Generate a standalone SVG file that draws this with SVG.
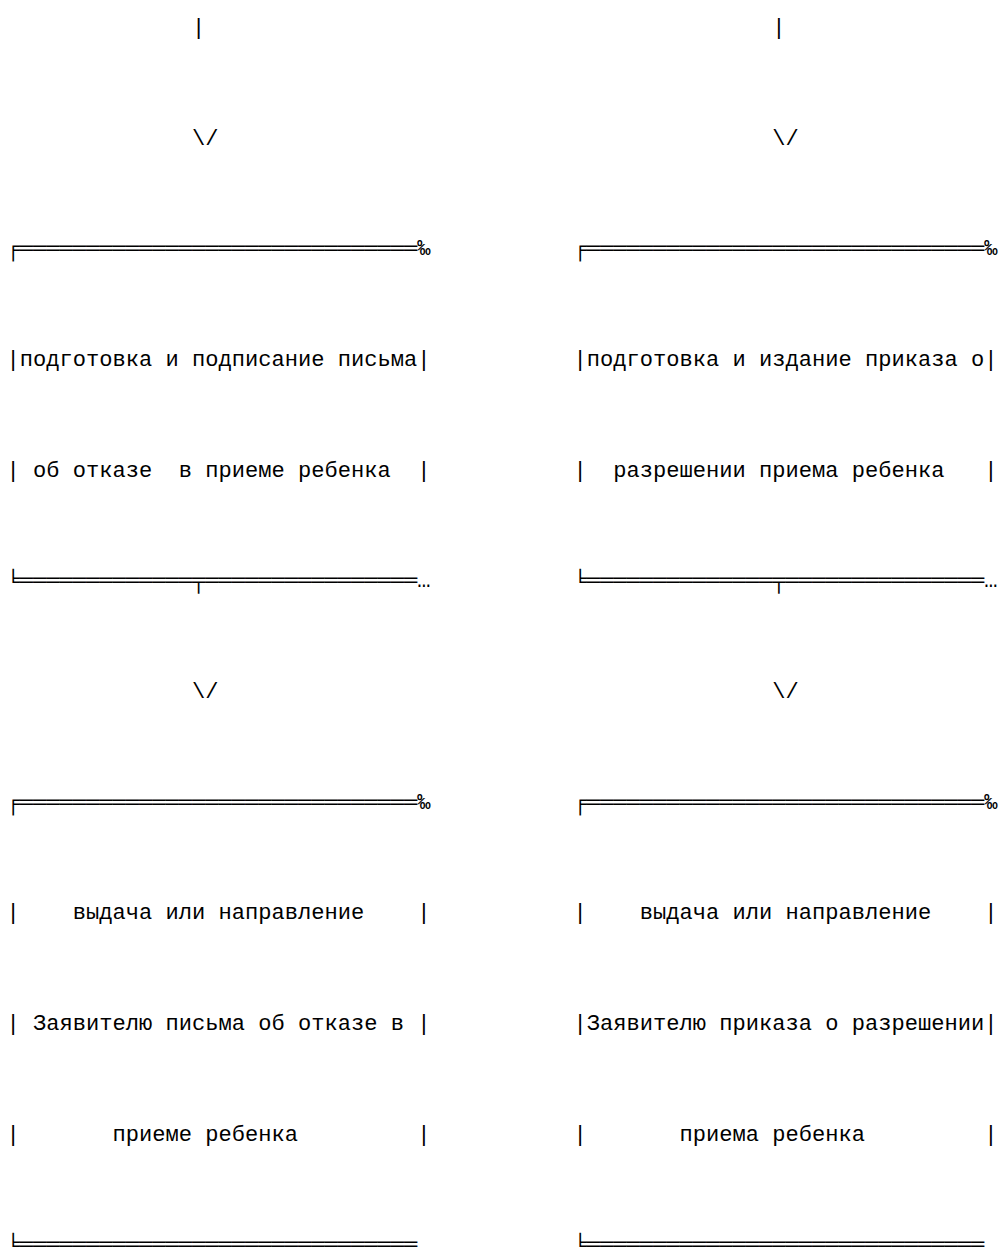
<svg xmlns="http://www.w3.org/2000/svg" width="999" height="1247" viewBox="0 0 999 1247" xml:space="preserve">
<style>
text { font-family: "Liberation Mono", "DejaVu Sans Mono", monospace; font-size: 22.08px; fill: #000; white-space: pre; }
</style>
<rect width="999" height="1247" fill="#fff"/>
<g id="connectors">
<text x="191.9" y="34">|</text>
<text x="772.15" y="34">|</text>
<text x="191.9" y="144.7">\/</text>
<text x="772.15" y="144.7">\/</text>
<text x="191.9" y="698">\/</text>
<text x="772.15" y="698">\/</text>
</g>
<g id="left-box-1">
<text x="6.4" y="255.3" textLength="424" lengthAdjust="spacing">╒══════════════════════════════‰</text>
<text x="6.4" y="366" textLength="424" lengthAdjust="spacing">|подготовка и подписание письма|</text>
<text x="6.4" y="476.7" textLength="424" lengthAdjust="spacing">| об отказе  в приеме ребенка  |</text>
<text x="6.4" y="587.3" textLength="424" lengthAdjust="spacing">╘═════════════╤════════════════…</text>
</g>
<g id="left-box-2">
<text x="6.4" y="808.7" textLength="424" lengthAdjust="spacing">╒══════════════════════════════‰</text>
<text x="6.4" y="919.3" textLength="424" lengthAdjust="spacing">|    выдача или направление    |</text>
<text x="6.4" y="1030" textLength="424" lengthAdjust="spacing">| Заявителю письма об отказе в |</text>
<text x="6.4" y="1140.7" textLength="424" lengthAdjust="spacing">|       приеме ребенка         |</text>
<text x="6.4" y="1251" textLength="410.75" lengthAdjust="spacing">╘══════════════════════════════</text>
</g>
<g id="right-box-1">
<text x="573.4" y="255.3" textLength="424" lengthAdjust="spacing">╒══════════════════════════════‰</text>
<text x="573.4" y="366" textLength="424" lengthAdjust="spacing">|подготовка и издание приказа о|</text>
<text x="573.4" y="476.7" textLength="424" lengthAdjust="spacing">|  разрешении приема ребенка   |</text>
<text x="573.4" y="587.3" textLength="424" lengthAdjust="spacing">╘══════════════╤═══════════════…</text>
</g>
<g id="right-box-2">
<text x="573.4" y="808.7" textLength="424" lengthAdjust="spacing">╒══════════════════════════════‰</text>
<text x="573.4" y="919.3" textLength="424" lengthAdjust="spacing">|    выдача или направление    |</text>
<text x="573.4" y="1030" textLength="424" lengthAdjust="spacing">|Заявителю приказа о разрешении|</text>
<text x="573.4" y="1140.7" textLength="424" lengthAdjust="spacing">|       приема ребенка         |</text>
<text x="573.4" y="1251" textLength="410.75" lengthAdjust="spacing">╘══════════════════════════════</text>
</g>
</svg>
